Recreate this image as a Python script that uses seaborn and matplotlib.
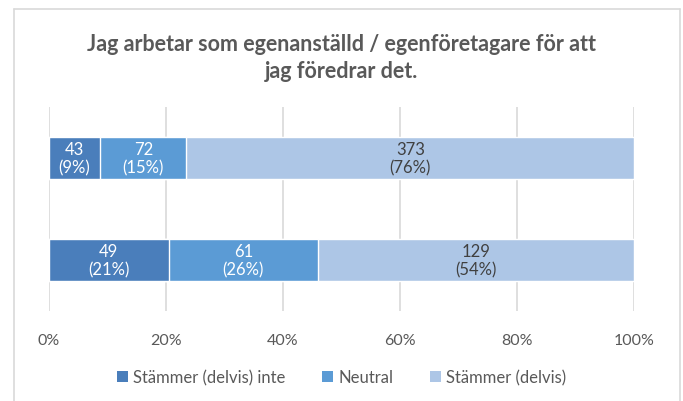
import matplotlib
matplotlib.use("Agg")
import matplotlib.pyplot as plt
import seaborn as sns
import pandas as pd
import numpy as np
from matplotlib.lines import Line2D
from matplotlib.patches import Patch

title = "Jag arbetar som egenanställd / egenföretagare för att\njag föredrar det."
groups = ["A", "B"]
series = ["Stämmer (delvis) inte", "Neutral", "Stämmer (delvis)"]
counts = {
    "Stämmer (delvis) inte": [43, 49],
    "Neutral": [72, 61],
    "Stämmer (delvis)": [373, 129],
}
pct_labels = {
    "Stämmer (delvis) inte": ["9%", "21%"],
    "Neutral": ["15%", "26%"],
    "Stämmer (delvis)": ["76%", "54%"],
}
colors = ["#4A7EBB", "#5B9BD5", "#ADC6E6"]
text_colors = ["white", "white", "#404040"]
xticks = [0, 20, 40, 60, 80, 100]

sns.set_theme(style="white")
plt.rcParams["font.family"] = ["Lato", "DejaVu Sans"]

W, H = 683, 402
fig = plt.figure(figsize=(W / 100, H / 100), dpi=100)
ax = fig.add_axes([48.5 / W, 1 - 312 / H, (634 - 48.5) / W, (312 - 108) / H])

totals = np.sum([counts[s] for s in series], axis=0)
shares = {s: np.array(counts[s]) / totals * 100 for s in series}
cum = np.cumsum([shares[s] for s in series], axis=0)

# draw cumulative bars from largest to smallest so they stack
for i in range(len(series) - 1, -1, -1):
    df = pd.DataFrame({"group": groups, "val": cum[i]})
    sns.barplot(data=df, x="val", y="group", orient="h", color=colors[i],
                saturation=1, width=0.41, ax=ax, zorder=2 + (len(series) - i))

ax.set_xlim(0, 100)
ax.set_ylim(1.5, -0.5)
ax.set_xticks(xticks)
ax.set_xticklabels([f"{t}%" for t in xticks], color="#595959", fontsize=11.5)
ax.tick_params(axis="x", length=0, pad=16)
ax.set_yticks([])
ax.set_xlabel("")
ax.set_ylabel("")
for sp in ax.spines.values():
    sp.set_visible(False)
ax.grid(axis="x", color="#D9D9D9", linewidth=1.2, zorder=0)
ax.set_axisbelow(True)

# labels
for i, s in enumerate(series):
    left = cum[i] - shares[s]
    for j in range(len(groups)):
        xc = left[j] + shares[s][j] / 2
        ax.text(xc, j, f"{counts[s][j]}\n({pct_labels[s][j]})", ha="center", va="center",
                color=text_colors[i], fontsize=12, linespacing=1.2, zorder=10)

fig.text(0.5, 1 - 58 / H, title, ha="center", va="center", fontsize=15.5,
         fontweight="bold", color="#595959", linespacing=1.4)

handles = [Patch(facecolor=c, edgecolor="none") for c in colors]
fig.legend(handles, series, loc="center", bbox_to_anchor=(0.5, 1 - 378 / H), ncol=3,
           frameon=False, fontsize=12, labelcolor="#595959", handlelength=0.65,
           handleheight=0.65, handletextpad=0.3, columnspacing=2.2)

# chart border
bc = "#D9D9D9"
fig.add_artist(Line2D([14 / W, 14 / W], [0, 1 - 10 / H], transform=fig.transFigure, color=bc, lw=1.2))
fig.add_artist(Line2D([14 / W, 680 / W], [1 - 10 / H, 1 - 10 / H], transform=fig.transFigure, color=bc, lw=1.2))
fig.add_artist(Line2D([680 / W, 680 / W], [0, 1 - 10 / H], transform=fig.transFigure, color=bc, lw=1.2))

fig.savefig("out.png", dpi=100, facecolor="white")
